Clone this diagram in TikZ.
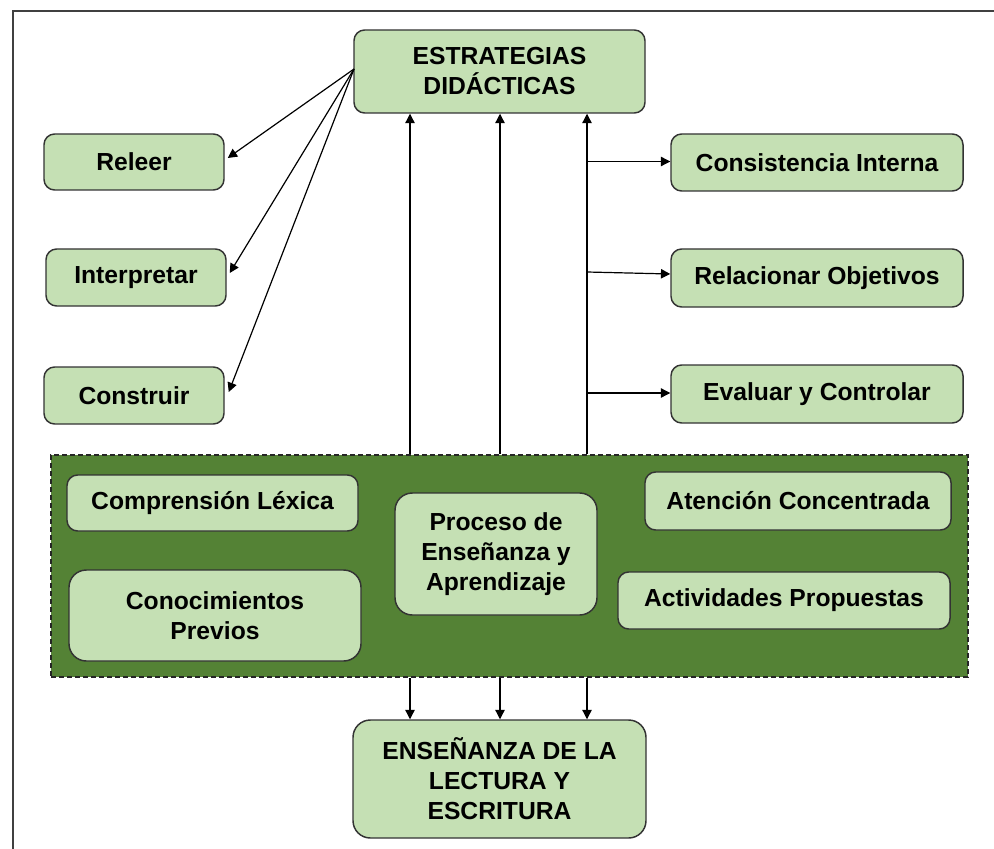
\documentclass[tikz,border=0pt]{standalone}
\usepackage{fontspec}
\setmainfont{Liberation Sans}
\usetikzlibrary{arrows.meta,calc}
\definecolor{lg}{HTML}{C5E0B4}
\definecolor{dg}{HTML}{548235}
\begin{document}
\begin{tikzpicture}[x=0.75pt,y=-0.75pt,
  box/.style={draw=black!80, line width=1.1pt, fill=lg, rounded corners=8pt,
    align=center, inner sep=0pt,
    font=\bfseries\fontsize{18.5}{22.5}\selectfont},
  bigbox/.style={box, rounded corners=13pt},
  sz/.style 2 args={minimum width=#1*0.75pt, minimum height=#2*0.75pt},
  arr/.style={-{Triangle[length=7pt,width=7pt]}, line width=0.9pt, black}]
\useasboundingbox (0,0) rectangle (994,848);
\draw[line width=1.5pt, black!75] (13,880) -- (13,11) -- (1010,11);

% group
\node[draw=black!85, dash pattern=on 4pt off 2pt, line width=1pt, fill=dg,
      sz={917}{222}, inner sep=0pt] (grp) at (509.5,566) {};

% top / bottom
\node[box, sz={291}{83}] (estr) at (499.5,71.5) {ESTRATEGIAS\\DIDÁCTICAS};
\node[bigbox, sz={293}{118}] (ense) at (499.5,779) {ENSEÑANZA DE LA\\LECTURA Y\\ESCRITURA};

% left
\node[box, sz={180}{56}] (releer) at (134,162) {Releer};
\node[box, sz={180}{57}] (interp) at (136,277.5) {Interpretar};
\node[box, sz={180}{57}] (constr) at (134,395.5) {Construir};

% right
\node[box, sz={292}{57}] (consis) at (817,162.5) {Consistencia Interna};
\node[box, sz={292}{58}] (relac) at (817,278) {Relacionar Objetivos};
\node[box, sz={292}{58}] (evalu) at (817,394) {Evaluar y Controlar};

% inside group
\node[box, sz={291}{56}] (comp) at (212.5,503) {Comprensión Léxica};
\node[bigbox, sz={292}{91}] (conoc) at (215,615.5) {Conocimientos\\Previos};
\node[bigbox, sz={202}{122}] (proc) at (496,554) {Proceso de\\Enseñanza y\\Aprendizaje};
\node[box, sz={306}{58}] (atenc) at (798,501) {Atención Concentrada};
\node[box, sz={332}{57}] (activ) at (784,600.5) {Actividades Propuestas};

% connectors
\coordinate (src) at (354,69);
\coordinate (v1) at (410,0);
\coordinate (v2) at (500,0);
\coordinate (v3) at (587,0);

\draw[arr] (src) -- ($(releer.east)+(3,-4)$);
\draw[arr] (src) -- ($(interp.east)+(3,-4.5)$);
\draw[arr] (src) -- ($(constr.east)+(4,-3.5)$);

\draw[arr] (grp.north -| v1) -- (estr.south -| v1);
\draw[arr] (grp.north -| v2) -- (estr.south -| v2);
\draw[arr] (grp.north -| v3) -- (estr.south -| v3);

\draw[arr] ($(v3 |- consis.west)+(0,-1)$) -- ($(consis.west)+(0,-1)$);
\draw[arr] ($(v3 |- relac.west)+(0,-6)$) -- ($(relac.west)+(0,-4)$);
\draw[arr] ($(v3 |- evalu.west)+(0,-1)$) -- ($(evalu.west)+(0,-1)$);

\draw[arr] (grp.south -| v1) -- (ense.north -| v1);
\draw[arr] (grp.south -| v2) -- (ense.north -| v2);
\draw[arr] (grp.south -| v3) -- (ense.north -| v3);
\end{tikzpicture}
\end{document}
